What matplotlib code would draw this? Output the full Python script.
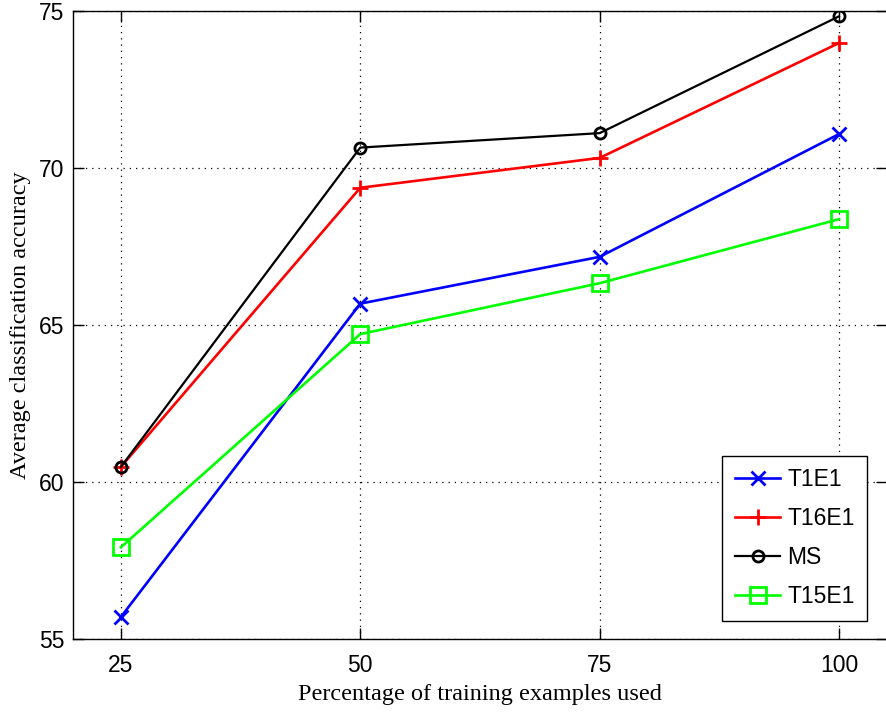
import numpy as np
import matplotlib
matplotlib.use('Agg')
import matplotlib.pyplot as plt

# values
pct_used = [25, 50, 75, 100]
t1e1 = [55.70, 65.68, 67.17, 71.08]
t16e1 = [60.48, 69.37, 70.32, 73.98]
ms = [60.48, 70.65, 71.11, 74.83]
t15e1 = [57.92, 64.71, 66.33, 68.37]

series = [
    ('T1E1', t1e1, '#0000ff', 'x', 10, 1.9),
    ('T16E1', t16e1, '#ff0000', '+', 12, 1.9),
    ('MS', ms, '#000000', 'o', 8, 1.6),
    ('T15E1', t15e1, '#00ff00', 's', 12, 1.9),
]

tick_font = 'Liberation Sans'
label_font = 'Liberation Serif'

fig = plt.figure(figsize=(8.86, 7.23), dpi=100)
ax = fig.add_axes([0.0824, 0.1162, 0.9186, 0.8686])

for name, vals, color, marker, ms_size, lw in series:
    ax.plot(pct_used, vals, color=color, lw=lw, marker=marker, markersize=ms_size,
            markeredgewidth=2, markerfacecolor='none', label=name)

ax.set_xlim(20, 105)
ax.set_ylim(55, 75)
ax.set_xticks(pct_used)
ax.set_yticks([55, 60, 65, 70, 75])
ax.grid(True, ls=(0, (1, 4)), color='black', lw=0.9)

ax.tick_params(direction='in', length=8, width=1, top=True, right=True,
               labelsize=16.5, colors='black')
ax.tick_params(axis='x', pad=11)
ax.tick_params(axis='y', pad=6)
for lbl in ax.get_xticklabels() + ax.get_yticklabels():
    lbl.set_family(tick_font)
for sp in ax.spines.values():
    sp.set_linewidth(1)

ax.set_xlabel('Percentage of training examples used', fontsize=17.5,
              family=label_font, labelpad=5)
ax.set_ylabel('Average classification accuracy', fontsize=17.5,
              family=label_font, labelpad=6)

leg = ax.legend(loc='lower right', bbox_to_anchor=(0.976, 0.0287), fancybox=False,
                framealpha=1, edgecolor='black', prop={'family': tick_font, 'size': 16.5},
                handlelength=2.0, handletextpad=0.3, borderpad=0.55, labelspacing=0.7,
                borderaxespad=0)
leg.get_frame().set_linewidth(1)

fig.savefig('out.png', dpi=100)
